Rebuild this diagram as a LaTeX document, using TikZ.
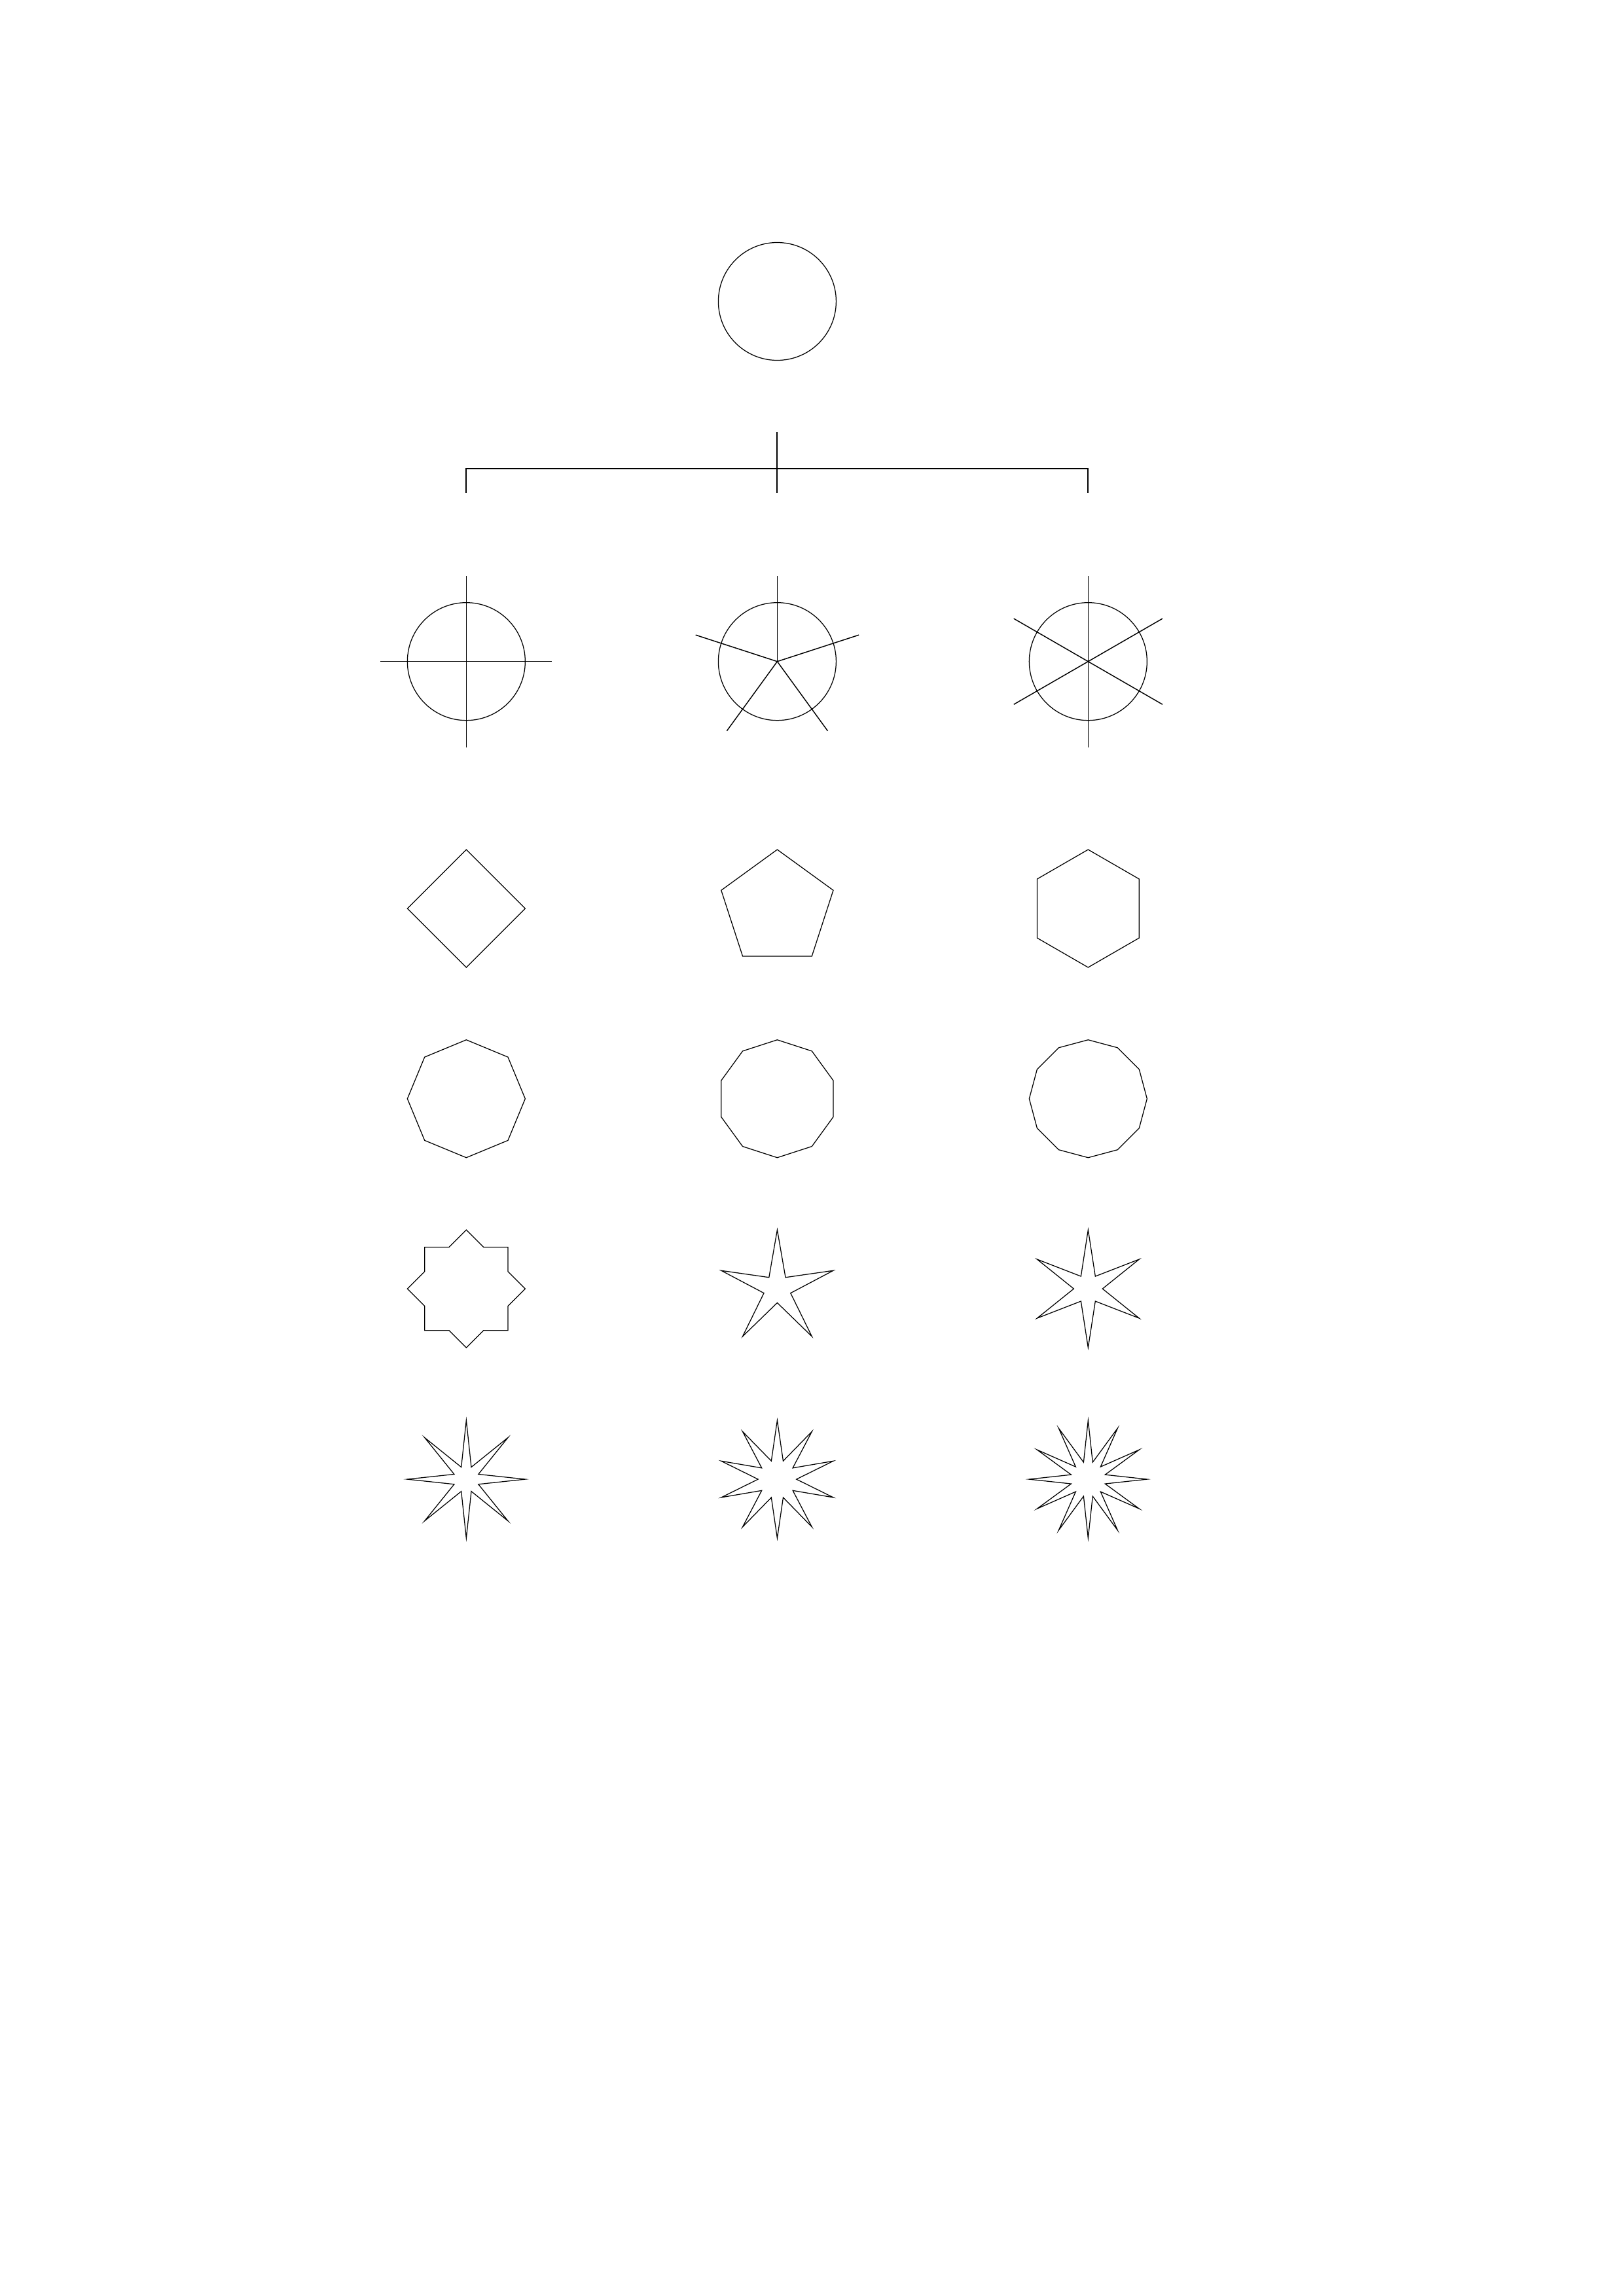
\documentclass[tikz,border=0pt]{standalone}
\usetikzlibrary{shapes.geometric}
\begin{document}
\begin{tikzpicture}[x=1mm, y=1mm,
    shp/.style={draw, line width=0.3pt, inner sep=0pt, outer sep=0pt, minimum size=15.24mm},
    poly/.style={shp, regular polygon, regular polygon sides=#1},
    starn/.style={shp, star, star points=#1},
    spoke/.style={line width=0.35pt},
    bracket/.style={line width=0.5pt}]
  \useasboundingbox (0,0) rectangle (210,297);

  \node[shp, circle] (root) at (100.53, 258.01) {};

  \coordinate (stem) at (100.53, 241.12);
  \coordinate (bar) at (100.53, 236.38);
  \coordinate (midend) at (100.53, 233.25);
  \coordinate (lend) at (60.31, 233.25);
  \coordinate (rend) at (140.74, 233.25);
  \draw[bracket] (stem) to (midend);
  \draw[bracket] (lend) |- (bar) -| (rend);

  \node[shp, circle] (cross) at (60.31, 211.43) {};
  \node[shp, circle] (fivespk) at (100.53, 211.43) {};
  \node[shp, circle] (sixspk) at (140.74, 211.43) {};
  \foreach \a in {0,90,180,270}
    \draw[spoke] (cross.center) -- ++(\a:11.1);
  \foreach \a in {18,90,162,234,306}
    \draw[spoke] (fivespk.center) -- ++(\a:11.1);
  \foreach \a in {30,90,...,330}
    \draw[spoke] (sixspk.center) -- ++(\a:11.1);

  \node[poly=4, shape border rotate=45] (sq) at (60.31, 179.48) {};
  \node[poly=5] (pent) at (100.53, 179.48) {};
  \node[poly=6, shape border rotate=30] (hex) at (140.74, 179.48) {};

  \node[poly=8, shape border rotate=22.5] (oct) at (60.31, 154.87) {};
  \node[poly=10, shape border rotate=18] (dec) at (100.53, 154.87) {};
  \node[poly=12, shape border rotate=15] (dodec) at (140.74, 154.87) {};

  \node[starn=8, star point ratio=1.307] (octstar) at (60.31, 130.29) {};
  \node[starn=5, star point ratio=4.2] (pentstar) at (100.53, 130.29) {};
  \node[starn=6, star point ratio=4.1] (hexstar) at (140.74, 130.29) {};

  \node[starn=8, star point ratio=4.5] (octspike) at (60.31, 105.65) {};
  \node[starn=10, star point ratio=3.07] (decspike) at (100.53, 105.65) {};
  \node[starn=12, star point ratio=3.35] (dodecspike) at (140.74, 105.65) {};
\end{tikzpicture}
\end{document}
